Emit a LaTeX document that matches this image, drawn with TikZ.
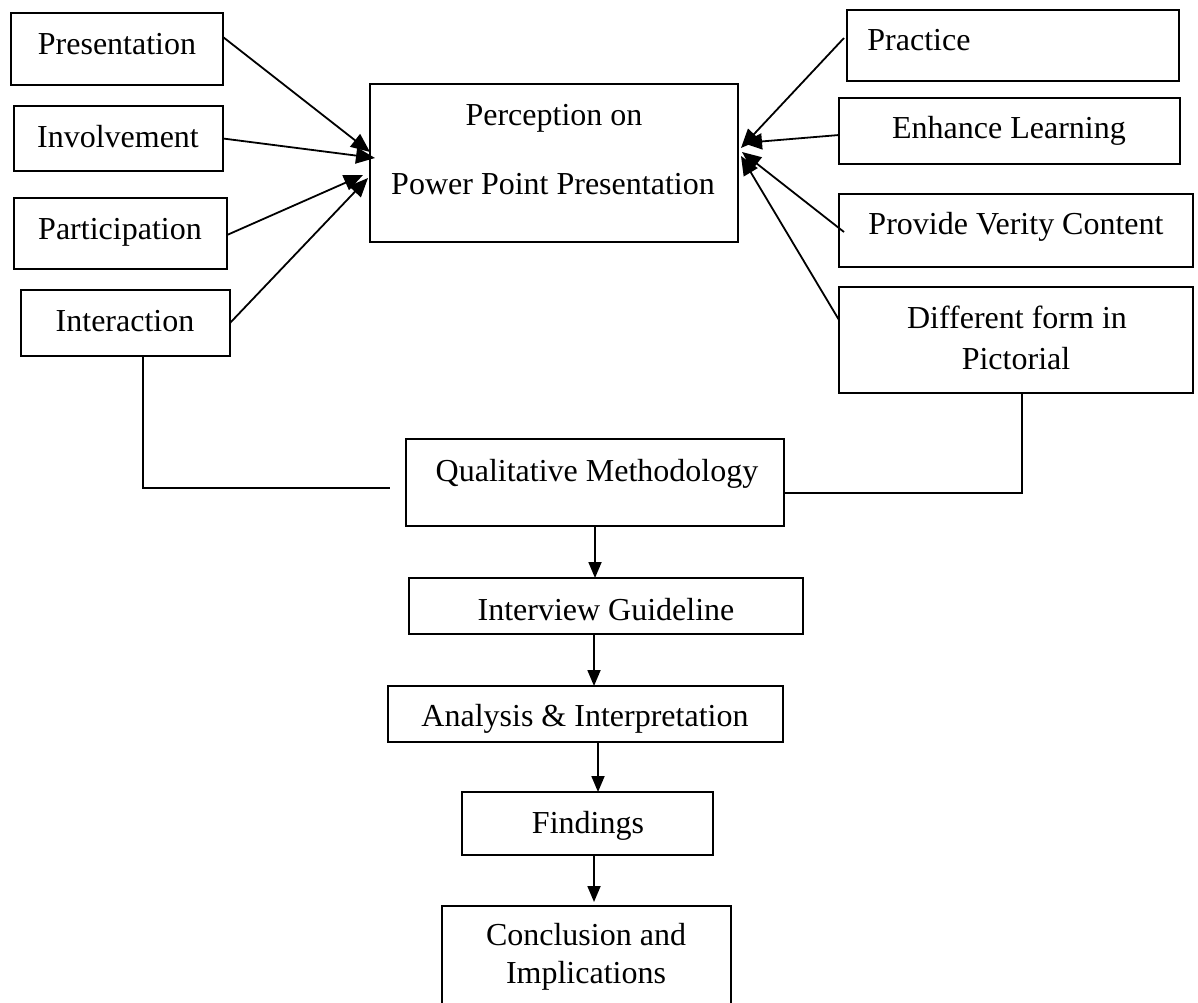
\documentclass[tikz,border=0pt]{standalone}
\usepackage{fontspec}
\setmainfont{Liberation Serif}
\usetikzlibrary{fit,arrows.meta}
\begin{document}
\begin{tikzpicture}[x=0.5pt,y=-0.5pt,
  bx/.style={draw=black, line width=1pt, inner sep=0pt, outer sep=0pt},
  lbl/.style={inner sep=0pt, anchor=base, font=\fontsize{16}{19}\selectfont},
  conn/.style={line width=0.9pt},
  arr/.style={conn, -{Triangle[length=8pt,width=6.5pt]}},
  darr/.style={conn, -{Triangle[length=9.5pt,width=8pt]}}]
\useasboundingbox (0,0) rectangle (1198,1002);
% left boxes
\node[bx, fit={(11,13) (223,85)}] (pres) {};
\node[bx, fit={(14,106) (223,171)}] (inv) {};
\node[bx, fit={(14,198) (227,269)}] (part) {};
\node[bx, fit={(21,290) (230,356)}] (inter) {};
% centre
\node[bx, fit={(370,84) (738,242)}] (perc) {};
% right boxes
\node[bx, fit={(847,10) (1179,81)}] (prac) {};
\node[bx, fit={(839,98) (1180,164)}] (enh) {};
\node[bx, fit={(839,194) (1193,267)}] (prov) {};
\node[bx, fit={(839,287) (1193,393)}] (diff) {};
% flow
\node[bx, fit={(406,439) (784,526)}] (qual) {};
\node[bx, fit={(409,578) (803,634)}] (intv) {};
\node[bx, fit={(388,686) (783,742)}] (anal) {};
\node[bx, fit={(462,792) (713,855)}] (find) {};
\node[bx, fit={(442,906) (731,1006)}] (concl) {};
% labels
\node[lbl] (tpres) at (117,54) {Presentation};
\node[lbl] (tinv) at (118,147) {Involvement};
\node[lbl] (tpart) at (120,239) {Participation};
\node[lbl] (tinter) at (125,331) {Interaction};
\node[lbl] (tperc1) at (554,125) {Perception on};
\node[lbl] (tperc2) at (553,194) {Power Point Presentation};
\node[lbl, anchor=base west] (tprac) at (867,50) {Practice};
\node[lbl] (tenh) at (1009,138) {Enhance Learning};
\node[lbl] (tprov) at (1016,234) {Provide Verity Content};
\node[lbl] (tdiff1) at (1017,328) {Different form in};
\node[lbl] (tdiff2) at (1016,369) {Pictorial};
\node[lbl] (tqual) at (597,481) {Qualitative Methodology};
\node[lbl] (tintv) at (606,620) {Interview Guideline};
\node[lbl] (tanal) at (585,726) {Analysis \& Interpretation};
\node[lbl] (tfind) at (588,833) {Findings};
\node[lbl] (tconc1) at (586,945) {Conclusion and};
\node[lbl] (tconc2) at (586,983) {Implications};
% arrows into perception (left)
\draw[darr] ([yshift=6pt]pres.east) -- ([yshift=5.5pt]perc.west);
\draw[darr] (inv.east) -- ([xshift=2.5pt,yshift=2.5pt]perc.west);
\draw[darr] ([yshift=-0.75pt]part.east) -- ([xshift=-3.5pt,yshift=-6pt]perc.west);
\draw[darr] (inter.east) -- ([xshift=-1pt,yshift=-7.5pt]perc.west);
% arrows into perception (right)
\draw[darr] ([xshift=-1.5pt,yshift=3.75pt]prac.west) -- ([xshift=1.5pt,yshift=7.5pt]perc.east);
\draw[darr] ([yshift=-2pt]enh.west) -- ([xshift=2.5pt,yshift=10pt]perc.east);
\draw[darr] ([xshift=2.5pt,yshift=-0.75pt]prov.west) -- ([xshift=2pt,yshift=5.5pt]perc.east);
\draw[darr] ([yshift=10pt]diff.west) -- ([xshift=1.5pt,yshift=3.5pt]perc.east);
% elbow connectors
\coordinate (lend) at ([xshift=-8pt,yshift=-2.75pt]qual.west);
\draw[conn] ([xshift=8.75pt]inter.south) |- (lend);
\draw[conn] ([xshift=3pt]diff.south) |- ([yshift=-5.25pt]qual.east);
% flow arrows
\draw[arr] (qual.south) -- (qual.south |- intv.north);
\draw[arr] ([xshift=-6pt]intv.south) -- ([xshift=-6pt]intv.south |- anal.north);
\draw[arr] ([xshift=6.25pt]anal.south) -- ([xshift=6.25pt]anal.south |- find.north);
\draw[arr] ([xshift=3.25pt]find.south) -- ([xshift=3.25pt,yshift=2pt]find.south |- concl.north);
\end{tikzpicture}
\end{document}
